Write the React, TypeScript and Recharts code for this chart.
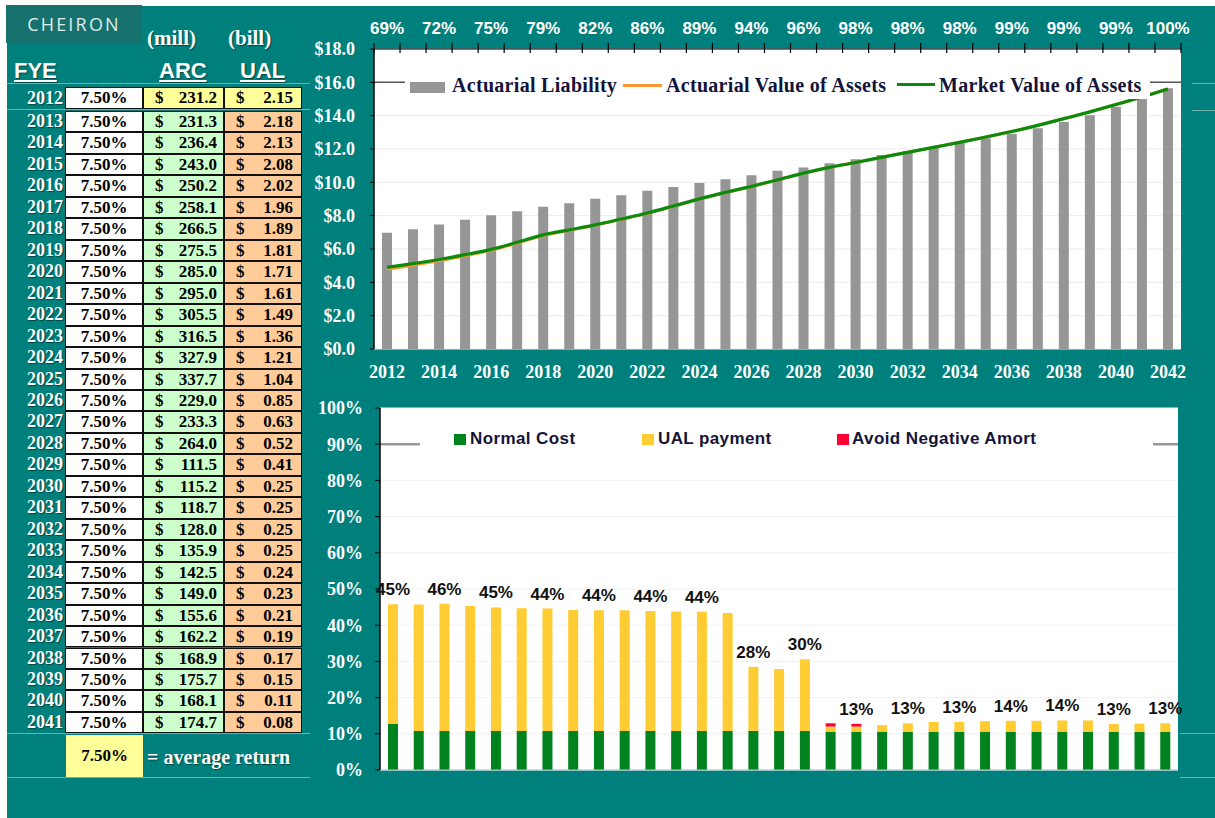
import React from 'react';
import {
  ComposedChart,
  BarChart,
  Bar,
  Line,
  XAxis,
  YAxis,
  CartesianGrid,
  ReferenceLine,
  LabelList,
} from 'recharts';

const TEAL = '#00807C';
const LOGO_BG = '#17716C';
const SERIF = '"Liberation Serif", "Times New Roman", serif';
const SANS = '"Liberation Sans", Arial, sans-serif';

// ---------- chart data ----------
const chartYears = [
  2012, 2013, 2014, 2015, 2016, 2017, 2018, 2019, 2020, 2021, 2022, 2023, 2024, 2025, 2026, 2027,
  2028, 2029, 2030, 2031, 2032, 2033, 2034, 2035, 2036, 2037, 2038, 2039, 2040, 2041, 2042,
];
const actuarialLiability = [
  6.97, 7.19, 7.47, 7.76, 8.02, 8.26, 8.53, 8.75, 9.01, 9.23, 9.5, 9.72, 9.96, 10.18, 10.42, 10.69,
  10.89, 11.15, 11.39, 11.64, 11.86, 12.1, 12.4, 12.65, 12.91, 13.25, 13.62, 14.02, 14.53, 15.03, 15.64,
];
const actuarialValueOfAssets = [
  4.8, 5.03, 5.29, 5.59, 5.92, 6.35, 6.81, 7.12, 7.43, 7.78, 8.14, 8.57, 9.0, 9.39, 9.75, 10.14,
  10.54, 10.9, 11.19, 11.5, 11.8, 12.1, 12.4, 12.72, 13.05, 13.42, 13.82, 14.23, 14.67, 15.12, 15.6,
];
const marketValueOfAssets = [
  4.9, 5.12, 5.37, 5.66, 5.98, 6.4, 6.85, 7.15, 7.45, 7.8, 8.16, 8.58, 9.01, 9.4, 9.76, 10.15,
  10.55, 10.9, 11.19, 11.5, 11.8, 12.1, 12.4, 12.72, 13.05, 13.42, 13.82, 14.23, 14.67, 15.12, 15.6,
];
const fundedRatioLabels = [69, 72, 75, 79, 82, 86, 89, 94, 96, 98, 98, 98, 99, 99, 99, 100];
const dollarTicks = [0, 2, 4, 6, 8, 10, 12, 14, 16, 18];

const normalCost = [
  12.7, 10.8, 10.8, 10.8, 10.8, 10.8, 10.8, 10.8, 10.8, 10.8, 10.8, 10.8, 10.8, 10.8, 10.8, 10.8,
  10.8, 10.6, 10.6, 10.6, 10.6, 10.6, 10.6, 10.6, 10.6, 10.6, 10.6, 10.6, 10.6, 10.6, 10.6,
];
const ualPayment = [
  33.1, 34.9, 35.1, 34.5, 34.1, 33.9, 33.8, 33.4, 33.3, 33.3, 33.1, 33.0, 32.9, 32.6, 17.7, 17.1,
  19.8, 1.4, 1.4, 1.8, 2.3, 2.7, 2.7, 2.9, 3.0, 3.0, 3.1, 3.1, 2.1, 2.2, 2.3,
];
const avoidNegativeAmort = [
  0, 0, 0, 0, 0, 0, 0, 0, 0, 0, 0, 0, 0, 0, 0, 0, 0, 0.9, 0.75, 0, 0, 0, 0, 0, 0, 0, 0, 0, 0, 0, 0,
];
const contributionLabels = [45, 46, 45, 44, 44, 44, 44, 28, 30, 13, 13, 13, 14, 14, 13, 13];
const percentTicks = [0, 10, 20, 30, 40, 50, 60, 70, 80, 90, 100];

// ---------- table data ----------
const tableYears = [
  2012, 2013, 2014, 2015, 2016, 2017, 2018, 2019, 2020, 2021, 2022, 2023, 2024, 2025, 2026, 2027,
  2028, 2029, 2030, 2031, 2032, 2033, 2034, 2035, 2036, 2037, 2038, 2039, 2040, 2041,
];
const returnRate = '7.50%';
const arcMillions = [
  '231.2', '231.3', '236.4', '243.0', '250.2', '258.1', '266.5', '275.5', '285.0', '295.0', '305.5',
  '316.5', '327.9', '337.7', '229.0', '233.3', '264.0', '111.5', '115.2', '118.7', '128.0', '135.9',
  '142.5', '149.0', '155.6', '162.2', '168.9', '175.7', '168.1', '174.7',
];
const ualBillions = [
  '2.15', '2.18', '2.13', '2.08', '2.02', '1.96', '1.89', '1.81', '1.71', '1.61', '1.49', '1.36',
  '1.21', '1.04', '0.85', '0.63', '0.52', '0.41', '0.25', '0.25', '0.25', '0.25', '0.24', '0.23',
  '0.21', '0.19', '0.17', '0.15', '0.11', '0.08',
];

const topData = chartYears.map((y, i) => ({
  year: String(y),
  pos: i + 0.5,
  al: actuarialLiability[i],
  ava: actuarialValueOfAssets[i],
  mva: marketValueOfAssets[i],
}));
const topTicks = Array.from({ length: chartYears.length * 2 + 1 }, (_, k) => k / 2);

// "cap" is an invisible, hair-thin carrier segment at the top of each stack that holds the total label
const botData = chartYears.map((y, i) => ({
  year: String(y),
  nc: normalCost[i],
  ual: ualPayment[i],
  neg: avoidNegativeAmort[i],
  cap: 0.01,
  lbl: i % 2 === 0 ? `${contributionLabels[i / 2]}%` : '',
}));

function FundedTick(props: any) {
  const { x, y, payload } = props;
  const v = payload.value as number;
  if (Number.isInteger(v)) {
    return <line x1={x} x2={x} y1={y - 6} y2={y + 4} stroke="#000" strokeWidth={1.2} />;
  }
  const k = v - 0.5;
  if (k % 2 !== 0) return <g />;
  return (
    <text x={x} y={y - 15} textAnchor="middle" fill="#fff" fontFamily={SANS} fontWeight={700} fontSize={17}>
      {fundedRatioLabels[k / 2]}%
    </text>
  );
}

const whiteSerif = { fill: '#fff', fontFamily: SERIF, fontWeight: 700, fontSize: 18 };
const shadow = '1px 1px 1px rgba(0,0,0,0.45)';

function TopChart() {
  return (
    <ComposedChart width={915} height={400} data={topData} margin={{ top: 0, right: 34, bottom: 11, left: 0 }}>
      <CartesianGrid vertical={false} stroke="#ececec" fill="#fff" fillOpacity={1} />
      <XAxis
        dataKey="year"
        interval={1}
        tickSize={0}
        tickMargin={16}
        axisLine={false}
        tickLine={false}
        height={40}
        tick={whiteSerif}
      />
      <XAxis
        xAxisId="top"
        orientation="top"
        type="number"
        dataKey="pos"
        domain={[0, 31]}
        ticks={topTicks}
        interval={0}
        tickSize={0}
        tickMargin={0}
        tickLine={false}
        axisLine={{ stroke: '#000', strokeWidth: 1.2 }}
        height={49}
        tick={<FundedTick />}
      />
      <YAxis
        domain={[0, 18]}
        ticks={dollarTicks}
        interval={0}
        tickFormatter={(v: number) => `$${v.toFixed(1)}`}
        width={74}
        tickSize={4}
        tickMargin={15}
        axisLine={{ stroke: '#000', strokeWidth: 1.5 }}
        tickLine={{ stroke: '#000' }}
        tick={whiteSerif}
      />
      <ReferenceLine y={16} stroke="#555" strokeWidth={1.5} />
      <Bar dataKey="al" fill="#969696" barSize={10} isAnimationActive={false} />
      <Line dataKey="ava" type="monotone" stroke="#FF9933" strokeWidth={3} dot={false} activeDot={false} isAnimationActive={false} />
      <Line dataKey="mva" type="monotone" stroke="#0B8A0B" strokeWidth={3.2} dot={false} activeDot={false} isAnimationActive={false} />
      <Line xAxisId="top" dataKey="mva" stroke="none" dot={false} activeDot={false} isAnimationActive={false} legendType="none" />
    </ComposedChart>
  );
}

function BottomChart() {
  return (
    <BarChart width={915} height={423} data={botData} margin={{ top: 13, right: 37, bottom: 47, left: 0 }}>
      <CartesianGrid vertical={false} stroke="#f1f1f1" fill="#fff" fillOpacity={1} />
      <XAxis dataKey="year" tick={false} tickLine={false} axisLine={{ stroke: '#a8cccc' }} height={1} />
      <YAxis
        domain={[0, 100]}
        ticks={percentTicks}
        interval={0}
        tickFormatter={(v: number) => `${v}%`}
        width={80}
        tickSize={5}
        tickMargin={12}
        axisLine={{ stroke: '#000', strokeWidth: 1.5 }}
        tickLine={{ stroke: '#000' }}
        tick={whiteSerif}
      />
      <ReferenceLine y={90} stroke="#999" strokeWidth={2.5} />
      <Bar dataKey="nc" stackId="a" fill="#00821E" barSize={10} isAnimationActive={false} />
      <Bar dataKey="ual" stackId="a" fill="#FFCC33" barSize={10} isAnimationActive={false} />
      <Bar dataKey="neg" stackId="a" fill="#FF0033" barSize={10} isAnimationActive={false} />
      <Bar dataKey="cap" stackId="a" fill="none" barSize={10} isAnimationActive={false} legendType="none">
        <LabelList dataKey="lbl" position="top" offset={9} fill="#111" fontFamily={SANS} fontWeight={700} fontSize={17} />
      </Bar>
    </BarChart>
  );
}

const abs = (left: number, top: number, extra: React.CSSProperties = {}): React.CSSProperties => ({
  position: 'absolute',
  left,
  top,
  ...extra,
});

function Table() {
  const rows = tableYears.map((yr, i) => {
    const top = i === 0 ? 87 : 111 + (i - 1) * 21.46;
    const h = i === 0 ? 22 : 21.46;
    const first = i === 0;
    const cell: React.CSSProperties = {
      position: 'absolute',
      top,
      height: h,
      boxSizing: 'border-box',
      border: '1px solid #111',
      fontFamily: SERIF,
      fontWeight: 700,
      fontSize: 17,
      lineHeight: `${h - 2}px`,
      color: '#000',
      whiteSpace: 'nowrap',
    };
    return (
      <React.Fragment key={yr}>
        <div
          style={{
            position: 'absolute',
            left: 0,
            width: 63,
            top,
            height: h,
            lineHeight: `${h}px`,
            textAlign: 'right',
            color: '#fff',
            fontFamily: SERIF,
            fontWeight: 700,
            fontSize: 18,
            textShadow: shadow,
          }}
        >
          {yr}
        </div>
        <div style={{ ...cell, left: 65, width: 78, background: '#fff', textAlign: 'center' }}>{returnRate}</div>
        <div style={{ ...cell, left: 143, width: 81, background: first ? '#FFFF99' : '#CCFFCC' }}>
          <span style={{ position: 'absolute', left: 11 }}>$</span>
          <span style={{ position: 'absolute', right: 6 }}>{arcMillions[i]}</span>
        </div>
        <div style={{ ...cell, left: 224, width: 78, background: first ? '#FFFF99' : '#FFCC99' }}>
          <span style={{ position: 'absolute', left: 11 }}>$</span>
          <span style={{ position: 'absolute', right: 8 }}>{ualBillions[i]}</span>
        </div>
      </React.Fragment>
    );
  });
  return <>{rows}</>;
}

const headerSans: React.CSSProperties = {
  fontFamily: SANS,
  fontWeight: 700,
  fontSize: 22,
  color: '#fff',
  textDecoration: 'underline',
  textShadow: shadow,
  lineHeight: '24px',
};
const headerSerif: React.CSSProperties = {
  fontFamily: SERIF,
  fontWeight: 700,
  fontSize: 21,
  color: '#fff',
  textShadow: shadow,
  lineHeight: '24px',
};
const legendSerif: React.CSSProperties = {
  position: 'absolute',
  top: 0,
  fontFamily: SERIF,
  fontWeight: 700,
  fontSize: 20,
  letterSpacing: 0.3,
  lineHeight: '29px',
  color: '#14143a',
  whiteSpace: 'nowrap',
};
const legendSans: React.CSSProperties = {
  position: 'absolute',
  top: 0,
  fontFamily: SANS,
  fontWeight: 700,
  fontSize: 17,
  letterSpacing: 0.4,
  lineHeight: '26px',
  color: '#14143a',
  whiteSpace: 'nowrap',
};

export default function App() {
  const sheetLine = (y: number, x1: number, x2: number) => (
    <div style={abs(x1, y, { width: x2 - x1, height: 1, background: '#6fb0ac' })} />
  );
  return (
    <div style={{ position: 'absolute', left: 0, top: 0, width: 1215, height: 818, background: '#fff', overflow: 'hidden' }}>
      <div style={abs(7, 6, { width: 1208, height: 812, background: TEAL })} />
      {sheetLine(83, 7, 310)}
      {sheetLine(109, 7, 310)}
      {sheetLine(733, 7, 310)}
      {sheetLine(777, 7, 310)}
      {sheetLine(83, 1192, 1215)}
      {sheetLine(110, 1192, 1215)}
      {sheetLine(733, 1180, 1215)}
      {sheetLine(777, 1180, 1215)}

      {/* logo */}
      <div
        style={abs(6, 5, {
          width: 136,
          height: 38,
          background: LOGO_BG,
          color: '#dfeeec',
          fontFamily: '"Open Sans", "DejaVu Sans", sans-serif',
          fontSize: 18,
          letterSpacing: 2.2,
          lineHeight: '38px',
          textAlign: 'center',
        })}
      >
        CHEIRON
      </div>

      {/* headers */}
      <div style={abs(147, 26, headerSerif)}>(mill)</div>
      <div style={abs(228, 26, headerSerif)}>(bill)</div>
      <div style={abs(14, 59, headerSans)}>FYE</div>
      <div style={abs(159, 59, headerSans)}>ARC</div>
      <div style={abs(240, 59, headerSans)}>UAL</div>

      <Table />

      {/* average return */}
      <div
        style={abs(66, 735, {
          width: 77,
          height: 42,
          background: '#FFFF99',
          fontFamily: SERIF,
          fontWeight: 700,
          fontSize: 17,
          lineHeight: '42px',
          textAlign: 'center',
          color: '#000',
        })}
      >
        {returnRate}
      </div>
      <div
        style={abs(147, 744, {
          fontFamily: SERIF,
          fontWeight: 700,
          fontSize: 20,
          lineHeight: '26px',
          color: '#fff',
          textShadow: shadow,
          whiteSpace: 'nowrap',
        })}
      >
        = average return
      </div>

      {/* charts */}
      <div style={abs(300, 0)}>
        <TopChart />
      </div>
      <div style={abs(300, 395)}>
        <BottomChart />
      </div>

      {/* top legend */}
      <div style={abs(405, 71, { width: 745, height: 28, background: '#fff' })}>
        <div style={abs(5, 11, { width: 35, height: 11, background: '#969696' })} />
        <div style={{ ...legendSerif, left: 47 }}>Actuarial Liability</div>
        <div style={abs(218, 13, { width: 39, height: 3, background: '#FF9933' })} />
        <div style={{ ...legendSerif, left: 261 }}>Actuarial Value of Assets</div>
        <div style={abs(492, 12, { width: 38, height: 3, background: '#0B8A0B' })} />
        <div style={{ ...legendSerif, left: 534 }}>Market Value of Assets</div>
      </div>

      {/* bottom legend */}
      <div style={abs(420, 426, { width: 733, height: 26, background: '#fff' })}>
        <div style={abs(34, 8, { width: 12, height: 11, background: '#00821E' })} />
        <div style={{ ...legendSans, left: 50 }}>Normal Cost</div>
        <div style={abs(222, 8, { width: 12, height: 11, background: '#FFCC33' })} />
        <div style={{ ...legendSans, left: 238 }}>UAL payment</div>
        <div style={abs(417, 8, { width: 12, height: 11, background: '#FF0033' })} />
        <div style={{ ...legendSans, left: 432 }}>Avoid Negative Amort</div>
      </div>
    </div>
  );
}
